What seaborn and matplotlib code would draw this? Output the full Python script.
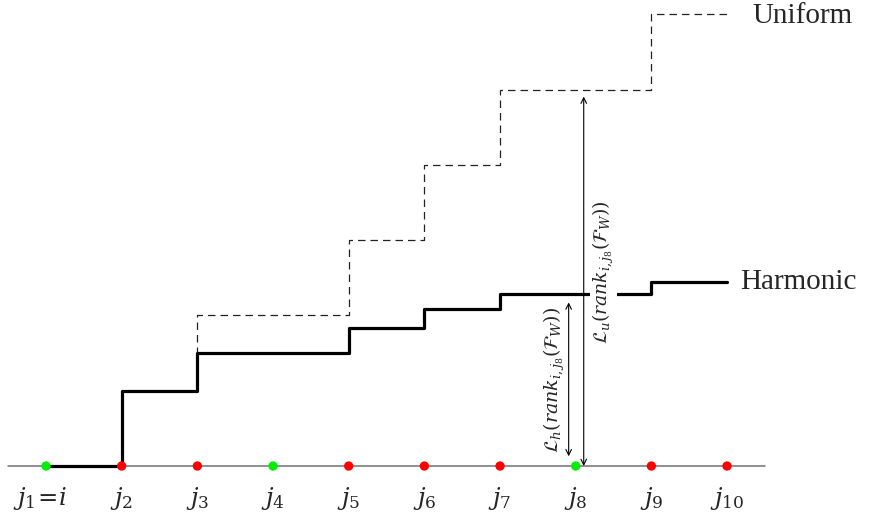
import matplotlib
matplotlib.use("Agg")
import matplotlib.pyplot as plt
import seaborn as sns
import pandas as pd
import numpy as np

# ---- data ----
positions = list(range(1, 11))
tick_labels = [r"$j_1\!=\!i$", r"$j_2$", r"$j_3$", r"$j_4$", r"$j_5$",
               r"$j_6$", r"$j_7$", r"$j_8$", r"$j_9$", r"$j_{10}$"]
relevant = [0, 1, 1, 0, 1, 1, 1, 0, 1, 1]  # 0 = green, 1 = red
harmonic = [0, 1, 1.5, 1.5, 1.8333, 2.0833, 2.2833, 2.2833, 2.45, 2.45]
uniform = [0, 1, 2, 2, 3, 4, 5, 5, 6, 6]
target_idx = 7  # j_8

sns.set_style("white")
plt.rcParams["font.family"] = ["Liberation Serif", "DejaVu Serif"]
plt.rcParams["mathtext.fontset"] = "dejavuserif"

df = pd.DataFrame({"pos": positions, "harmonic": harmonic,
                   "uniform": uniform, "rel": relevant})

fig = plt.figure(figsize=(8.69, 5.27), dpi=100)
ax = fig.add_axes([0, 0, 1, 1])
ax.set_xlim(0.392, 11.876)
ax.set_ylim(-0.81, 6.19)
ax.axis("off")

# baseline
ax.plot([0.5, 10.5], [0, 0], color="#707070", lw=1.1, zorder=1)

# uniform (dashed)
sns.lineplot(data=df, x="pos", y="uniform", drawstyle="steps-post",
             color="#222222", lw=0.9, ax=ax, zorder=2,
             dashes=False, linestyle=(0, (6, 4)))
# harmonic (solid thick)
sns.lineplot(data=df, x="pos", y="harmonic", drawstyle="steps-post",
             color="black", lw=2.3, ax=ax, zorder=3)

# dots
colors = ["#00ee00" if r == 0 else "#ff0000" for r in relevant]
sns.scatterplot(x=positions, y=[0] * len(positions), c=colors, s=45,
                edgecolor="none", ax=ax, zorder=5)

# tick labels
for i, (p, lab) in enumerate(zip(positions, tick_labels)):
    dx = -0.08 if i == 0 else 0.0
    ax.text(p + dx, -0.43, lab, ha="center", va="center", fontsize=17.5)

# arrows
xt = positions[target_idx]
xh = xt - 0.093
xu = xt + 0.106
ax.annotate("", xy=(xh, harmonic[target_idx]), xytext=(xh, 0),
            arrowprops=dict(arrowstyle="<->", lw=0.8, color="black",
                            shrinkA=7, shrinkB=6), zorder=4)
ax.annotate("", xy=(xu, uniform[target_idx]), xytext=(xu, 0),
            arrowprops=dict(arrowstyle="<->", lw=0.8, color="black",
                            shrinkA=0, shrinkB=5), zorder=4)

ax.text(xh - 0.19, 1.14, r"$\mathcal{L}_h(rank_{i,j_8}(\mathcal{F}_W))$",
        rotation=90, ha="center", va="center", fontsize=13.8, zorder=6)
ax.text(xu + 0.26, 2.57, r"$\mathcal{L}_u(rank_{i,j_8}(\mathcal{F}_W))$",
        rotation=90, ha="center", va="center", fontsize=13.5, zorder=6,
        bbox=dict(facecolor="white", edgecolor="none", pad=0.5))

# series labels
ax.text(10.34, uniform[-1] - 0.02, "Uniform", ha="left", va="center", fontsize=21)
ax.text(10.18, harmonic[-1], "Harmonic", ha="left", va="center", fontsize=21)

ax.set_xlabel("")
ax.set_ylabel("")
fig.savefig("out.png", dpi=100)
